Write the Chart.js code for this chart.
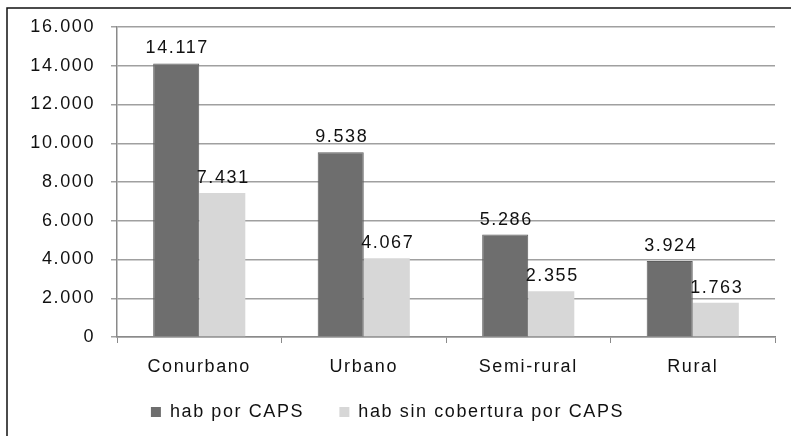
<!DOCTYPE html>
<html>
<head>
<meta charset="UTF-8">
<title>hab por CAPS</title>
<script src="https://cdn.jsdelivr.net/npm/chart.js@4"></script>
<style>
  body { margin: 0; background: #fff; }
  #wrap { width: 791px; height: 436px; }
</style>
</head>
<body>
<div id="wrap"><canvas id="myChart" width="791" height="436"></canvas></div>
<script>
var categories = ["Conurbano", "Urbano", "Semi-rural", "Rural"];
var seriesNames = ["hab por CAPS", "hab sin cobertura por CAPS"];
var habPorCaps = [14117, 9538, 5286, 3924];
var habSinCobertura = [7431, 4067, 2355, 1763];
var yTicks = [0, 2000, 4000, 6000, 8000, 10000, 12000, 14000, 16000];

var FONT = "'Liberation Sans', Arial, sans-serif";
var SIZE = 18;
var SPACING = "1.6px";

function fmt(v) {
  return String(v).replace(/\B(?=(\d{3})+(?!\d))/g, ".");
}

// wide letter spacing like the original picture
var spacing = {
  id: 'spacing',
  beforeUpdate: function(chart) { chart.ctx.letterSpacing = SPACING; },
  beforeDraw: function(chart) { chart.ctx.letterSpacing = SPACING; }
};

// values above each bar
var valueLabels = {
  id: 'valueLabels',
  afterDatasetsDraw: function(chart) {
    var ctx = chart.ctx;
    ctx.save();
    ctx.font = SIZE + "px " + FONT;
    ctx.fillStyle = "#111";
    ctx.textAlign = "center";
    ctx.textBaseline = "bottom";
    chart.data.datasets.forEach(function(ds, i) {
      chart.getDatasetMeta(i).data.forEach(function(bar, j) {
        ctx.fillText(fmt(ds.data[j]), bar.x + 1, bar.y - 6);
      });
    });
    ctx.restore();
  }
};

// outer frame: top and left lines only
var frame = {
  id: 'frame',
  beforeDraw: function(chart) {
    var ctx = chart.ctx;
    ctx.save();
    ctx.fillStyle = "#fff";
    ctx.fillRect(0, 0, chart.width, chart.height);
    ctx.strokeStyle = "#111";
    ctx.lineWidth = 1.5;
    ctx.beginPath();
    ctx.moveTo(7, chart.height);
    ctx.lineTo(7, 8);
    ctx.lineTo(chart.width, 8);
    ctx.stroke();
    ctx.restore();
  }
};

var ctx = document.getElementById('myChart').getContext('2d');
var myChart = new Chart(ctx, {
  type: 'bar',
  data: {
    labels: categories,
    datasets: [
      { label: seriesNames[0], data: habPorCaps, backgroundColor: "#6e6e6e",
        borderColor: "#5e5e5e", borderWidth: 1,
        barPercentage: 1, categoryPercentage: 0.56 },
      { label: seriesNames[1], data: habSinCobertura, backgroundColor: "#d7d7d7",
        borderWidth: 0,
        barPercentage: 1, categoryPercentage: 0.56 }
    ]
  },
  options: {
    responsive: false,
    animation: false,
    layout: { padding: { left: 0, right: 16, top: 27, bottom: 5 } },
    plugins: {
      tooltip: { enabled: false },
      legend: {
        position: 'bottom',
        labels: {
          font: { family: FONT, size: SIZE },
          color: "#111",
          boxWidth: 10,
          boxHeight: 10,
          padding: 14,
          useBorderRadius: false,
          generateLabels: function(chart) {
            var items = Chart.defaults.plugins.legend.labels.generateLabels(chart);
            // wider gap after the first entry, as in the original
            items[0].text = items[0].text + "\u2002\u2002";
            items.forEach(function(it) { it.lineWidth = 0; });
            return items;
          }
        }
      }
    },
    scales: {
      x: {
        offset: true,
        grid: { display: true, drawOnChartArea: false, tickLength: 6, color: "#8a8a8a", offset: true },
        border: { color: "#8a8a8a", width: 1.5 },
        ticks: { font: { family: FONT, size: SIZE }, color: "#111", padding: 13 },
        afterFit: function(scale) { scale.height = 52; }
      },
      y: {
        min: 0,
        max: 16000,
        afterBuildTicks: function(scale) {
          scale.ticks = yTicks.map(function(v) { return { value: v }; });
        },
        grid: { color: "#a0a0a0", lineWidth: 1.5, tickLength: 6 },
        border: { color: "#8a8a8a", width: 1.5 },
        ticks: {
          font: { family: FONT, size: SIZE },
          color: "#111",
          padding: 16,
          callback: function(v) { return fmt(v); }
        },
        afterFit: function(scale) { scale.width = 117; }
      }
    }
  },
  plugins: [spacing, frame, valueLabels]
});
</script>
</body>
</html>
